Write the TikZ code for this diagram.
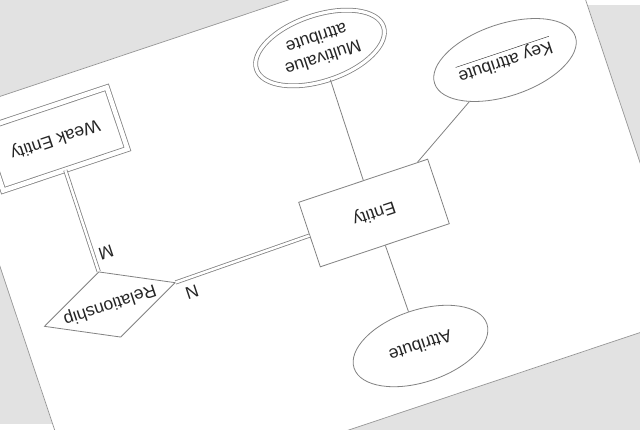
\documentclass[tikz,border=0pt]{standalone}
\usepackage{fontspec}
\setmainfont{Liberation Sans}
\usetikzlibrary{shapes.geometric}
\definecolor{edgegray}{RGB}{130,130,130}
\definecolor{pagegray}{RGB}{150,150,150}
\definecolor{txt}{RGB}{38,38,38}
\definecolor{bg}{RGB}{226,226,226}
\begin{document}
\begin{tikzpicture}[x=1pt,y=-1pt,
  rot/.style={rotate=198.5},
  lbl/.style={rot, font=\fontsize{17.5}{21}\selectfont, text=txt},
  shp/.style={lbl, draw=edgegray, line width=0.8pt, fill=white},
  attrshape/.style={shp, ellipse, minimum width=140pt, minimum height=72pt},
  conn/.style={draw=edgegray, line width=0.8pt},
  dconn/.style={draw=edgegray, line width=0.8pt, double=white, double distance=2.5pt}]
\useasboundingbox (0,0) rectangle (640,430);
\clip (0,0) rectangle (640,430);
\fill[bg] (0,0) rectangle (640,430);
\fill[white] (290,0) rectangle (640,5);
\fill[white] (0,424) rectangle (60,430);
\node[rot, draw=pagegray, line width=0.7pt, fill=white, minimum width=640pt, minimum height=427pt, inner sep=0pt] (page) at (320,214.5) {};
% nodes
\node[shp, rectangle, minimum width=136pt, minimum height=68pt] (ent) at (374,213) {Entity};
\node[shp, rectangle, double=white, double distance=4.5pt, minimum width=131pt, minimum height=65pt] (weak) at (55,139) {Weak Entity};
\node[shp, ellipse, double=white, double distance=3.2pt, minimum width=134pt, minimum height=66pt, align=center] (multi) at (320,48) {Multivalue\\attribute};
\node[attrshape] (key) at (505,60) {\underline{Key attribute}};
\node[attrshape] (attr) at (420.5,346) {Attribute};
\node[shp, diamond, aspect=2, inner sep=0pt, minimum width=138pt, minimum height=69pt] (rel) at (109.75,304.5) {Relationship};
\node[lbl] (m) at (106,253) {M};
\node[lbl] (n) at (192,292) {N};
% connectors
\draw[conn] (multi) -- (ent);
\draw[conn] (key) -- (ent);
\draw[conn] (attr) -- (ent);
\draw[dconn] (ent) -- (rel.west);
\draw[dconn] (weak) -- (rel.south);
\end{tikzpicture}
\end{document}
